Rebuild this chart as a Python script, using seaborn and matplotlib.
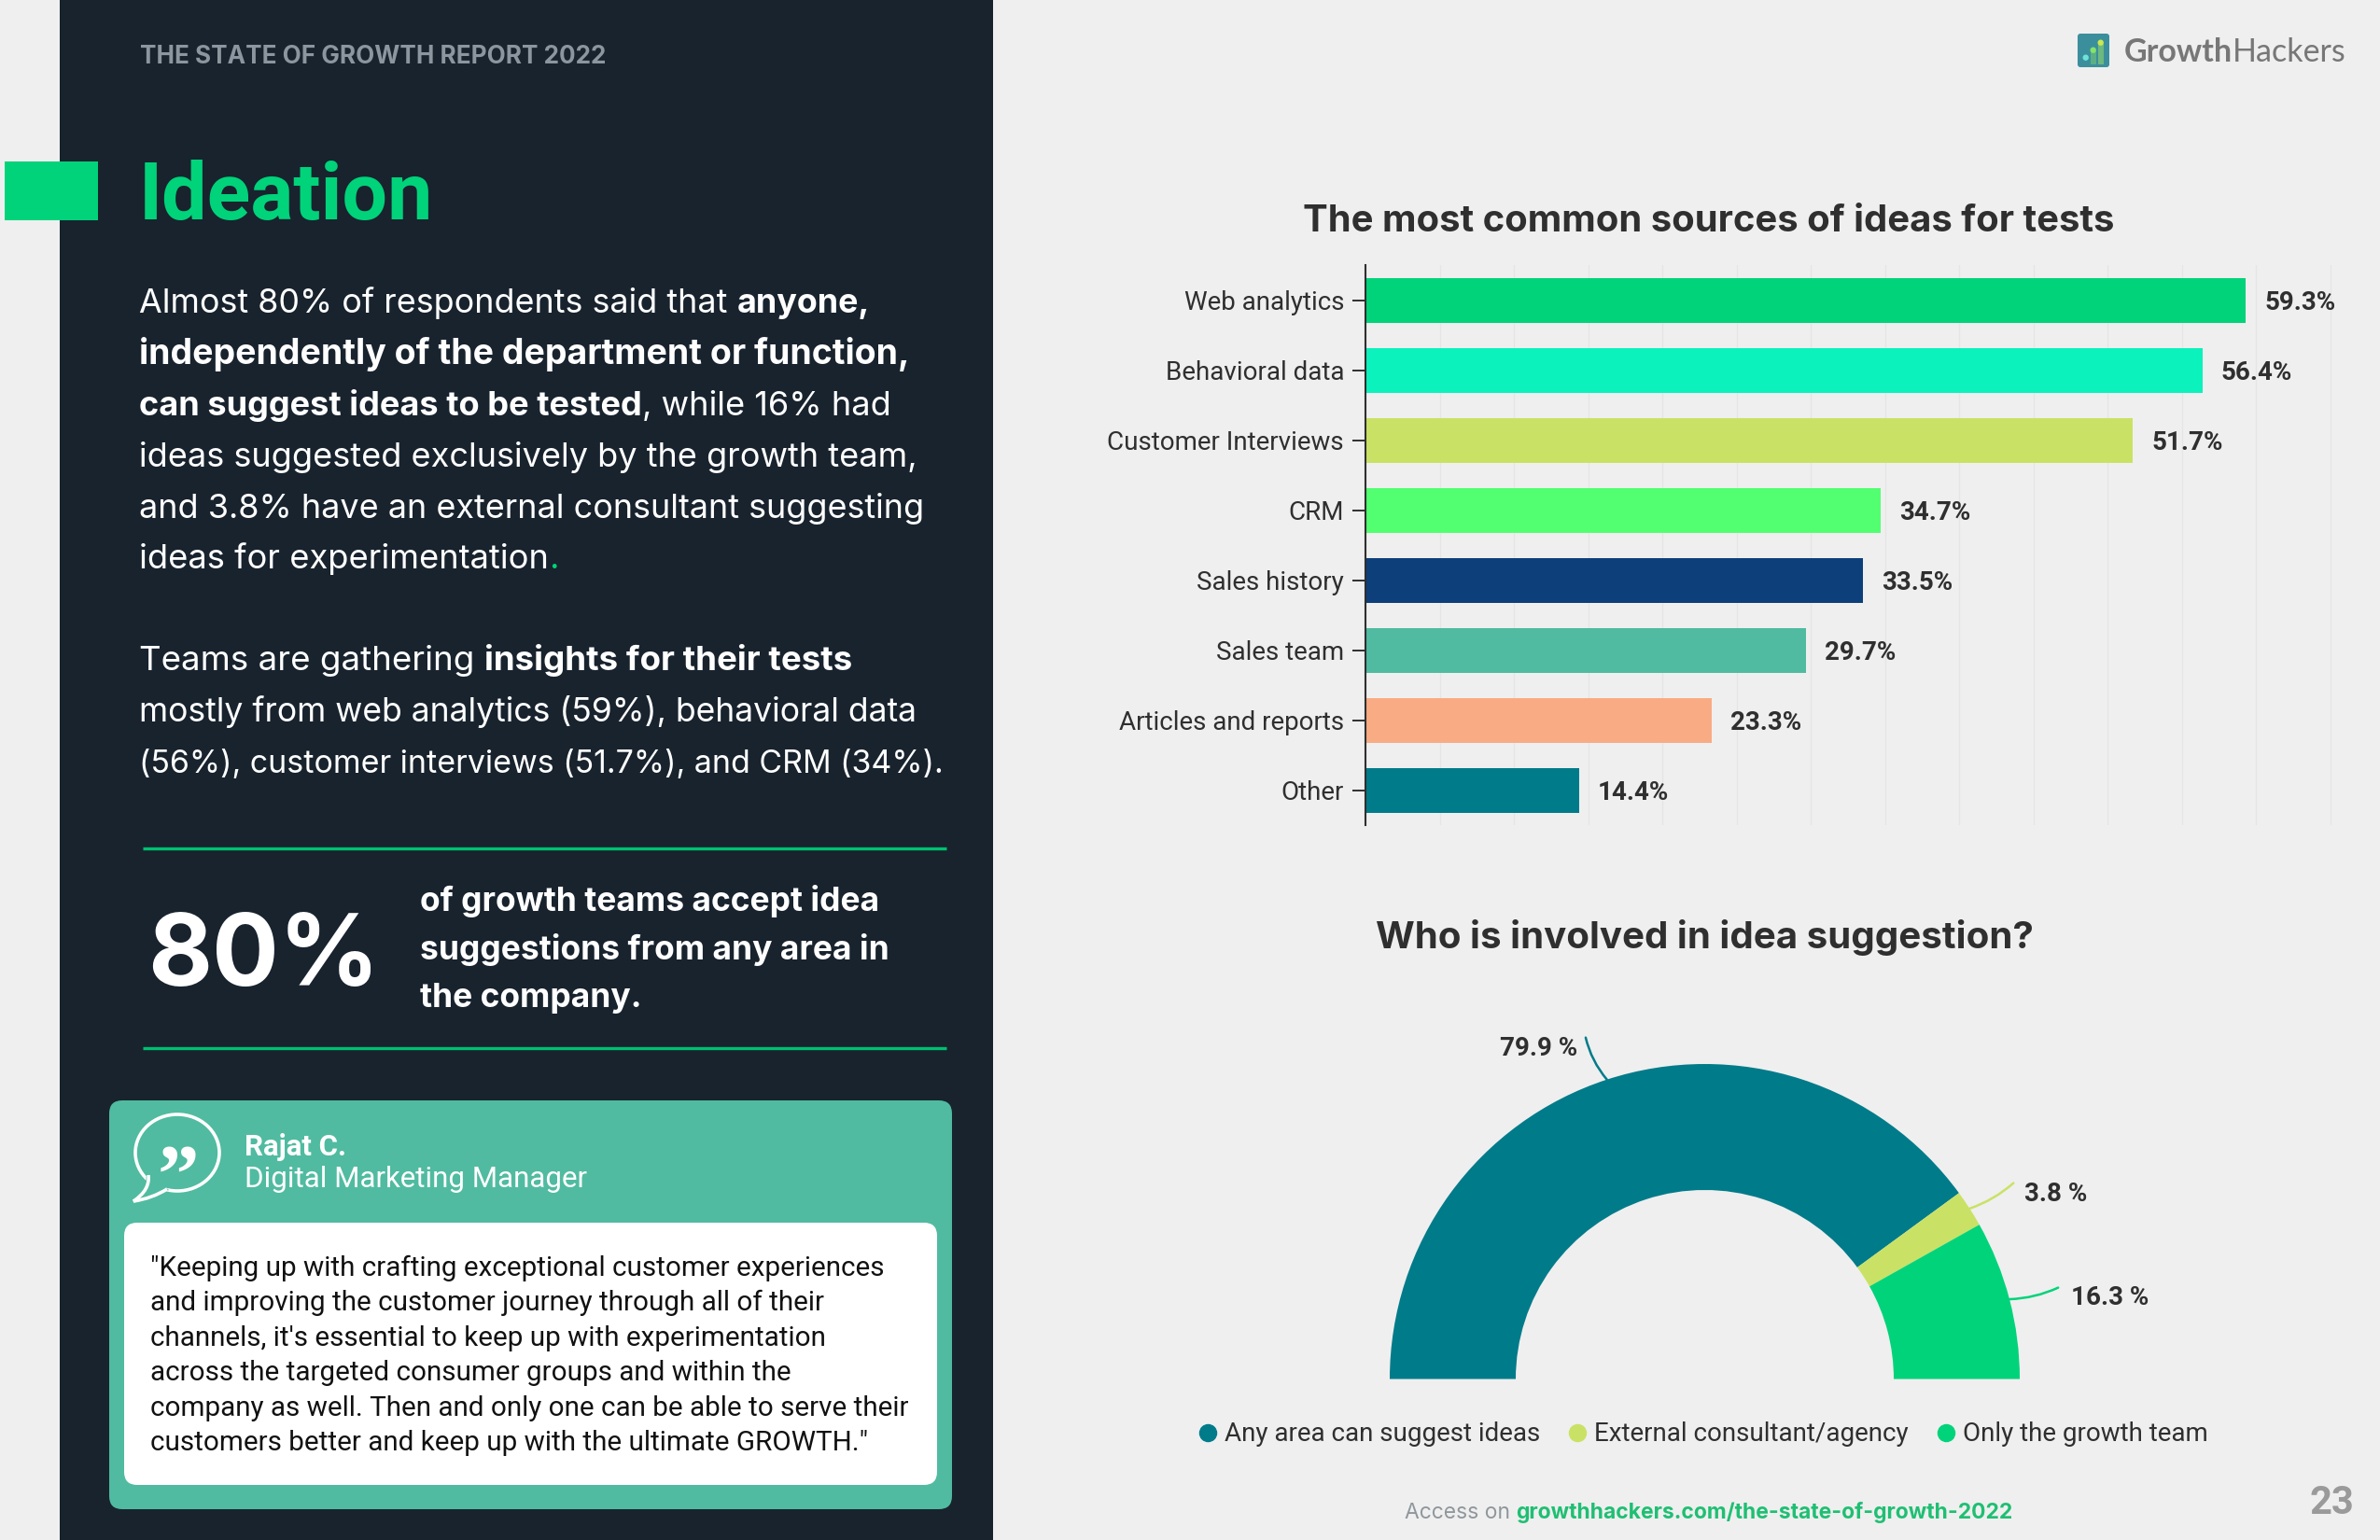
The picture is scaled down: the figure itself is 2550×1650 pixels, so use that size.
import matplotlib
matplotlib.use("Agg")
import matplotlib.pyplot as plt
import numpy as np
import pandas as pd
import seaborn as sns
from matplotlib.lines import Line2D
from matplotlib.patches import Circle, Ellipse, FancyBboxPatch, PathPatch, Rectangle
from matplotlib.path import Path

W, H = 2550, 1650

# bar chart data
sources = ["Web analytics", "Behavioral data", "Customer Interviews", "CRM",
           "Sales history", "Sales team", "Articles and reports", "Other"]
source_share = [59.3, 56.4, 51.7, 34.7, 33.5, 29.7, 23.3, 14.4]
source_colors = ["#00D37A", "#0CF2BC", "#C9E265", "#52FF71", "#0D3F7A", "#50BBA0", "#F9AB84", "#007B8A"]

# half donut data
who_labels = ["Any area can suggest ideas", "External consultant/agency", "Only the growth team"]
who_share = [79.9, 3.8, 16.3]
who_colors = ["#007B8A", "#C9E265", "#00D37A"]

BG = "#EFEFEF"
PANEL = "#18232E"
GREEN = "#00D37A"
TEAL = "#50BBA0"
INK = "#2F2F2F"
HEAD = "Inter"
ROBOTO = "Roboto"

sns.set_theme(style="whitegrid")
plt.rcParams["font.family"] = [ROBOTO, "DejaVu Sans"]

fig = plt.figure(figsize=(W / 100, H / 100), dpi=100, facecolor=BG)

# page furniture, in pixel coordinates
page = fig.add_axes([0, 0, 1, 1], zorder=0)
page.set_xlim(0, W); page.set_ylim(H, 0); page.axis("off")
renderer = fig.canvas.get_renderer()


def text_width(s, **kw):
    t = page.text(0, 0, s + "|", **kw)
    b = page.text(0, 0, "|", **kw)
    w = t.get_window_extent(renderer).width - b.get_window_extent(renderer).width
    t.remove(); b.remove()
    return w


def draw_runs(x, y, runs, size, family=HEAD, right=None):
    # one line of text with mixed weights, scaled to end at `right` if given
    if right is not None:
        total = sum(text_width(s, family=family, fontsize=size, fontweight=w) for s, w, _ in runs)
        size = size * (right - x) / total
    for s, weight, color in runs:
        page.text(x, y, s, family=family, fontsize=size, fontweight=weight, color=color, va="baseline")
        x += text_width(s, family=family, fontsize=size, fontweight=weight)


page.add_patch(Rectangle((64, 0), 1000, H, fc=PANEL, ec="none"))
page.add_patch(Rectangle((5, 173), 100, 63, fc=GREEN, ec="none"))
page.text(150, 61, "THE STATE OF GROWTH REPORT 2022", family=HEAD, fontsize=18.8, fontweight="bold",
          color="#8C969E", va="center")
page.text(149, 235, "Ideation", family=ROBOTO, fontsize=62, fontweight="bold", color=GREEN, va="baseline")

WHITE = "white"
body = [
    (335, 932, [("Almost 80% of respondents said that ", "normal", WHITE), ("anyone,", "bold", WHITE)]),
    (390, 973, [("independently of the department or function,", "bold", WHITE)]),
    (445, 955, [("can suggest ideas to be tested", "bold", WHITE), (", while 16% had", "normal", WHITE)]),
    (500, 984, [("ideas suggested exclusively by the growth team,", "normal", WHITE)]),
    (555, 991, [("and 3.8% have an external consultant suggesting", "normal", WHITE)]),
    (609, 598, [("ideas for experimentation", "normal", WHITE), (".", "normal", GREEN)]),
    (718, 913, [("Teams are gathering ", "normal", WHITE), ("insights for their tests", "bold", WHITE)]),
    (773, 984, [("mostly from web analytics (59%), behavioral data", "normal", WHITE)]),
    (828, 1011, [("(56%), customer interviews (51.7%), and CRM (34%).", "normal", WHITE)]),
]
for y, right, runs in body:
    draw_runs(149, y, runs, 24.5, right=right)

for y in (909, 1123):
    page.plot([153, 1014], [y, y], color="#00C070", lw=2.4, solid_capstyle="butt")
page.text(158, 1056, "80%", family=HEAD, fontsize=76.5, fontweight="bold", color=WHITE, va="baseline")
for y, s in zip((976, 1028, 1079), ("of growth teams accept idea", "suggestions from any area in", "the company.")):
    page.text(450, y, s, family=HEAD, fontsize=25.5, fontweight="bold", color=WHITE, va="baseline")

# quote card
page.add_patch(FancyBboxPatch((117, 1179), 903, 438, boxstyle="round,pad=0,rounding_size=14", fc=TEAL, ec="none"))
page.add_patch(FancyBboxPatch((133, 1310), 871, 281, boxstyle="round,pad=0,rounding_size=14", fc="white", ec="none"))
page.add_patch(Ellipse((190, 1235), 90, 82, fc="none", ec="white", lw=2.6))
page.add_patch(PathPatch(Path([(156, 1254), (160, 1272), (143, 1287), (165, 1283), (181, 1275), (170, 1266), (156, 1254)],
                              [Path.MOVETO, Path.CURVE3, Path.CURVE3, Path.CURVE3, Path.CURVE3, Path.LINETO, Path.CLOSEPOLY]),
                         fc=TEAL, ec="none"))
page.add_patch(PathPatch(Path([(159, 1259), (161, 1275), (143, 1287), (163, 1284), (179, 1274)],
                              [Path.MOVETO, Path.CURVE3, Path.CURVE3, Path.CURVE3, Path.CURVE3]),
                         fc="none", ec="white", lw=2.6))
page.text(191, 1287, "\u201d", family="Liberation Serif", fontsize=64, fontweight="bold", color="white", ha="center", va="baseline")
page.text(262, 1238, "Rajat C.", family=ROBOTO, fontsize=22.5, fontweight="bold", color="white", va="baseline")
page.text(262, 1272, "Digital Marketing Manager", family=ROBOTO, fontsize=22.5, color="white", va="baseline")
quote = [
    "\"Keeping up with crafting exceptional customer experiences",
    "and improving the customer journey through all of their",
    "channels, it's essential to keep up with experimentation",
    "across the targeted consumer groups and within the",
    "company as well. Then and only one can be able to serve their",
    "customers better and keep up with the ultimate GROWTH.\"",
]
for i, line in enumerate(quote):
    page.text(161, 1367 + i * 37.4, line, family=ROBOTO, fontsize=21.3, color="#111111", va="baseline")

# logo
page.add_patch(FancyBboxPatch((2226, 36), 34, 36, boxstyle="round,pad=0,rounding_size=3", fc="#3B8F9C", ec="none"))
page.add_patch(Rectangle((2240, 55), 6, 14, fc="#5BAF86", ec="none"))
page.add_patch(Rectangle((2248, 47), 6, 22, fc="#6DB97F", ec="none"))
page.add_patch(Circle((2234.7, 61.7), 3.2, fc="#6FE0DA", ec="none"))
page.add_patch(Circle((2242.7, 53.7), 3.2, fc="#86E36A", ec="none"))
page.add_patch(Circle((2250.7, 45.7), 3.2, fc="#C9E94F", ec="none"))
draw_runs(2276, 66, [("Growth", "bold", "#777777"), ("Hackers", "normal", "#777777")], 24, family="Lato", right=2513)

# footer
draw_runs(1505, 1627, [("Access on ", "normal", "#8F979C"), ("growthhackers.com/the-state-of-growth-2022", "bold", "#1FBF73")],
          16.5, right=2157)
page.text(2522, 1622, "23", family=ROBOTO, fontsize=30, fontweight="bold", color="#9A9A9A", ha="right", va="baseline")

# titles
page.text(1831, 238, "The most common sources of ideas for tests", family=HEAD, fontsize=28.8, fontweight="bold",
          color=INK, ha="center", va="center")
page.text(1826, 1005, "Who is involved in idea suggestion?", family=HEAD, fontsize=29, fontweight="bold",
          color=INK, ha="center", va="center")

# horizontal bars
ax = fig.add_axes([1463 / W, 1 - 884 / H, 1036 / W, 600 / H], zorder=2)
ax.set_facecolor("none")
df = pd.DataFrame({"source": sources, "share": source_share})
sns.barplot(data=df, y="source", x="share", hue="source", palette=source_colors, saturation=1,
            width=0.64, legend=False, linewidth=0, ax=ax)
for c in ax.containers:
    for t in ax.bar_label(c, fmt="%.1f%%", padding=15, fontsize=20, fontweight="bold", color=INK):
        t.xyann = (14.5, -2)
ax.set_xlim(0, 65.15)
ax.set_xticks(np.arange(0, 70, 5))
ax.set_xlabel(""); ax.set_ylabel("")
ax.grid(axis="x", color="#E5E5E5", lw=1); ax.grid(axis="y", visible=False)
ax.set_axisbelow(True)
sns.despine(ax=ax, top=True, right=True, bottom=True, left=False)
ax.spines["left"].set_color(INK); ax.spines["left"].set_linewidth(1.5)
ax.tick_params(axis="x", length=0, labelbottom=False)
ax.tick_params(axis="y", length=10, width=1.4, color=INK, pad=6.5, labelsize=20, labelcolor=INK, left=True)

# half donut, hidden lower half
dn = fig.add_axes([1489 / W, 1 - 1477.5 / H, 675 / W, 337.5 / H], zorder=2)
dn.pie(who_share + [sum(who_share)], colors=who_colors + ["none"], startangle=180, counterclock=False,
       radius=1, wedgeprops=dict(width=0.4, linewidth=0))
dn.set_xlim(-1, 1); dn.set_ylim(0, 1)

ends = [(-0.378, 1.084), (0.98, 0.622), (1.122, 0.29)]
rads = [0.12, -0.1, -0.1]
label_pos = [(-0.405, 1.05, "right"), (1.014, 0.587, "left"), (1.162, 0.257, "left")]
edge = 0.0
for share, color, end, rad, (lx, ly, ha) in zip(who_share, who_colors, ends, rads, label_pos):
    mid = np.deg2rad(180 - (edge + share / 2) * 1.8)
    edge += share
    dn.annotate("", xy=(np.cos(mid), np.sin(mid)), xytext=end,
                arrowprops=dict(arrowstyle="-", color=color, lw=1.8, shrinkA=0, shrinkB=0,
                                connectionstyle=f"arc3,rad={rad}"))
    dn.text(lx, ly, f"{share} %", fontsize=20, fontweight="bold", color=INK, ha=ha, va="center")

handles = [Line2D([], [], marker="o", ls="", color=c, markersize=13) for c in who_colors]
dn.legend(handles, who_labels, ncols=3, frameon=False, fontsize=20, labelcolor=INK,
          loc="center", bbox_to_anchor=(1823 / W, 1 - 1537 / H), bbox_transform=fig.transFigure,
          handlelength=1, handletextpad=0.14, columnspacing=0.96, borderpad=0)

fig.savefig("out.png", dpi=100, facecolor=BG)
